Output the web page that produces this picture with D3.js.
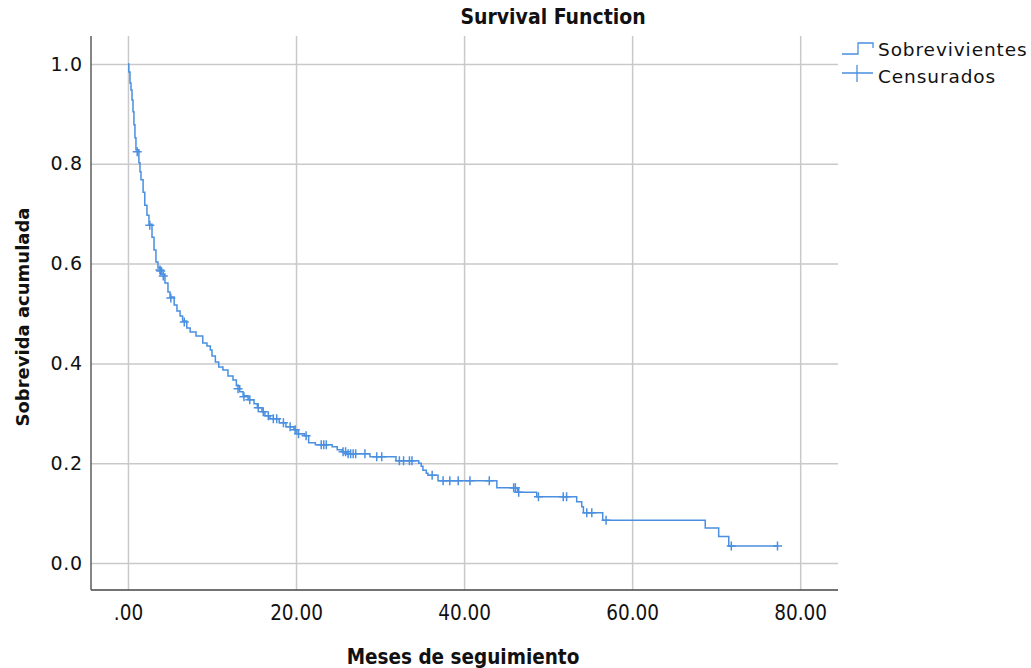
<!DOCTYPE html>
<html>
<head>
<meta charset="utf-8">
<script src="https://cdn.jsdelivr.net/npm/d3@7"></script>
<style>
  html, body { margin: 0; padding: 0; background: #fff; }
  svg { display: block; }
</style>
</head>
<body>
<svg id="chart" width="1031" height="668"></svg>
<script>
// ---- Data ----
const stepTimes = [0, 0.1, 0.24, 0.36, 0.48, 0.6, 0.71, 0.83, 0.95, 1.3, 1.43, 1.55, 1.8, 2.0, 2.26, 2.5,
  2.86, 3.1, 3.33, 3.57, 4.0, 4.4, 4.76, 5.0, 5.5, 5.83, 6.2, 6.5, 7.0, 7.4, 8.1, 8.9, 9.4, 9.8, 10.0,
  10.4, 10.8, 11.3, 11.9, 12.5, 12.9, 13.3, 13.7, 14.3, 15.0, 15.4, 15.95, 16.3, 16.9, 18.0, 18.8,
  19.75, 20.1, 21.0, 21.5, 22.3, 24.3, 24.9, 25.5, 26.0, 28.8, 31.9, 34.6, 34.9, 35.1, 35.5, 35.7,
  36.9, 43.9, 46.35, 48.65, 53.4, 54.0, 54.2, 56.5, 68.7, 70.3, 71.5];
const stepSurvival = [1.0, 0.984, 0.962, 0.948, 0.928, 0.904, 0.878, 0.852, 0.828, 0.802, 0.784, 0.768,
  0.743, 0.717, 0.697, 0.679, 0.653, 0.627, 0.603, 0.591, 0.579, 0.561, 0.543, 0.533, 0.517, 0.505,
  0.495, 0.485, 0.471, 0.463, 0.455, 0.441, 0.435, 0.427, 0.415, 0.403, 0.393, 0.387, 0.375, 0.367,
  0.355, 0.343, 0.335, 0.327, 0.319, 0.311, 0.303, 0.295, 0.289, 0.281, 0.273, 0.267, 0.259, 0.255,
  0.241, 0.237, 0.233, 0.227, 0.223, 0.219, 0.213, 0.205, 0.200, 0.194, 0.186, 0.180, 0.176, 0.165,
  0.151, 0.142, 0.133, 0.123, 0.113, 0.101, 0.086, 0.070, 0.053, 0.034];
const endTime = 77.3;

const censorTimes = [1.1, 2.6, 3.8, 3.9, 4.2, 5.1, 6.7, 13.1, 13.8, 14.5, 15.5, 16.1, 16.7, 17.3, 17.7,
  18.5, 19.3, 19.9, 20.3, 21.2, 23.0, 23.3, 23.6, 25.6, 25.9, 26.2, 26.5, 26.8, 27.1, 28.2, 29.6, 30.2,
  32.3, 32.8, 33.5, 33.8, 36.2, 37.5, 38.3, 39.3, 40.7, 43.0, 45.9, 46.1, 46.5, 48.85, 51.8, 52.2,
  54.6, 55.2, 56.9, 71.8, 77.3];
const censorSurvival = [0.824, 0.677, 0.587, 0.585, 0.575, 0.531, 0.483, 0.349, 0.333, 0.327, 0.311,
  0.303, 0.295, 0.289, 0.289, 0.281, 0.273, 0.267, 0.259, 0.255, 0.237, 0.237, 0.237, 0.223, 0.223,
  0.219, 0.219, 0.219, 0.219, 0.219, 0.213, 0.213, 0.205, 0.205, 0.205, 0.205, 0.176, 0.165, 0.165,
  0.165, 0.165, 0.165, 0.151, 0.151, 0.142, 0.133, 0.133, 0.133, 0.101, 0.101, 0.086, 0.034, 0.034];

const xTicks = [0, 20, 40, 60, 80];
const yTicks = [0.0, 0.2, 0.4, 0.6, 0.8, 1.0];
const legendLabels = ["Sobrevivientes", "Censurados"];

// ---- Layout ----
const svg = d3.select("#chart");
const pLeft = 91, pRight = 838, pTop = 36, pBottom = 590;
const lineColor = "#4a8fe0";
const gridColor = "#c9c9c9";
const narrow = "'Liberation Sans Narrow', 'DejaVu Sans Condensed', sans-serif";
const wide = "'DejaVu Sans', sans-serif";

const x = d3.scaleLinear().domain([-4.4, 84.5]).range([pLeft, pRight]);
const y = d3.scaleLinear().domain([-0.054, 1.056]).range([pBottom, pTop]);

// gridlines
svg.append("g")
  .attr("transform", `translate(0,${pBottom})`)
  .call(d3.axisBottom(x).tickValues(xTicks).tickSize(-(pBottom - pTop)).tickFormat(""))
  .call(g => g.select(".domain").remove())
  .call(g => g.selectAll("line").attr("stroke", gridColor).attr("stroke-width", 1.5));
svg.append("g")
  .attr("transform", `translate(${pLeft},0)`)
  .call(d3.axisLeft(y).tickValues(yTicks).tickSize(-(pRight - pLeft)).tickFormat(""))
  .call(g => g.select(".domain").remove())
  .call(g => g.selectAll("line").attr("stroke", gridColor).attr("stroke-width", 1.5));

// axes lines + labels
const xAxis = svg.append("g")
  .attr("transform", `translate(0,${pBottom})`)
  .call(d3.axisBottom(x).tickValues(xTicks).tickSize(0).tickPadding(15)
    .tickFormat(d => d === 0 ? ".00" : d3.format(".2f")(d)));
xAxis.select(".domain").attr("stroke", "#444").attr("stroke-width", 1.3)
  .attr("d", `M${pLeft},0H${pRight}`);
xAxis.selectAll("text")
  .attr("font-family", narrow)
  .attr("font-size", 20.5).attr("fill", "#111");

const yAxis = svg.append("g")
  .attr("transform", `translate(${pLeft},0)`)
  .call(d3.axisLeft(y).tickValues(yTicks).tickSize(0).tickPadding(8)
    .tickFormat(d3.format(".1f")));
yAxis.select(".domain").attr("stroke", "#444").attr("stroke-width", 1.3)
  .attr("d", `M0,${pTop}V${pBottom}`);
yAxis.selectAll("text")
  .attr("font-family", wide)
  .attr("font-size", 19).attr("letter-spacing", 0.8).attr("fill", "#111");

// survival step line
const stepData = stepTimes.map((t, i) => ({ t, s: stepSurvival[i] }));
stepData.push({ t: endTime, s: stepSurvival[stepSurvival.length - 1] });
const line = d3.line().x(d => x(d.t)).y(d => y(d.s)).curve(d3.curveStepAfter);
svg.append("path")
  .datum(stepData)
  .attr("d", line)
  .attr("fill", "none")
  .attr("stroke", lineColor)
  .attr("stroke-width", 1.5);

// censor marks
const censorData = censorTimes.map((t, i) => ({ t, s: censorSurvival[i] }));
const cs = 4.5;
svg.append("g").selectAll("path")
  .data(censorData)
  .join("path")
  .attr("d", d => `M${x(d.t) - cs},${y(d.s)}H${x(d.t) + cs}M${x(d.t)},${y(d.s) - cs}V${y(d.s) + cs}`)
  .attr("stroke", lineColor)
  .attr("stroke-width", 1.5)
  .attr("fill", "none");

// title
svg.append("text")
  .attr("x", 553).attr("y", 24)
  .attr("text-anchor", "middle")
  .attr("font-family", narrow)
  .attr("font-weight", "bold").attr("font-size", 21).attr("fill", "#111")
  .text("Survival Function");

// axis titles
svg.append("text")
  .attr("x", 463).attr("y", 664)
  .attr("text-anchor", "middle")
  .attr("font-family", narrow)
  .attr("font-weight", "bold").attr("font-size", 20.5).attr("fill", "#111")
  .text("Meses de seguimiento");

svg.append("text")
  .attr("transform", "translate(29,317) rotate(-90)")
  .attr("text-anchor", "middle")
  .attr("font-family", wide)
  .attr("font-weight", "bold").attr("font-size", 18).attr("fill", "#111")
  .text("Sobrevida acumulada");

// legend
const lg = svg.append("g");
lg.append("path")
  .attr("d", "M842,54H858V43H873V48")
  .attr("fill", "none").attr("stroke", lineColor).attr("stroke-width", 1.3);
lg.append("path")
  .attr("d", "M842,73H873M857,65V82")
  .attr("fill", "none").attr("stroke", lineColor).attr("stroke-width", 1.3);
lg.selectAll("text")
  .data(legendLabels)
  .join("text")
  .attr("x", 878)
  .attr("y", (d, i) => 56 + i * 27)
  .attr("font-family", wide)
  .attr("font-size", 18.5).attr("letter-spacing", 0.9).attr("fill", "#111")
  .text(d => d);
</script>
</body>
</html>
